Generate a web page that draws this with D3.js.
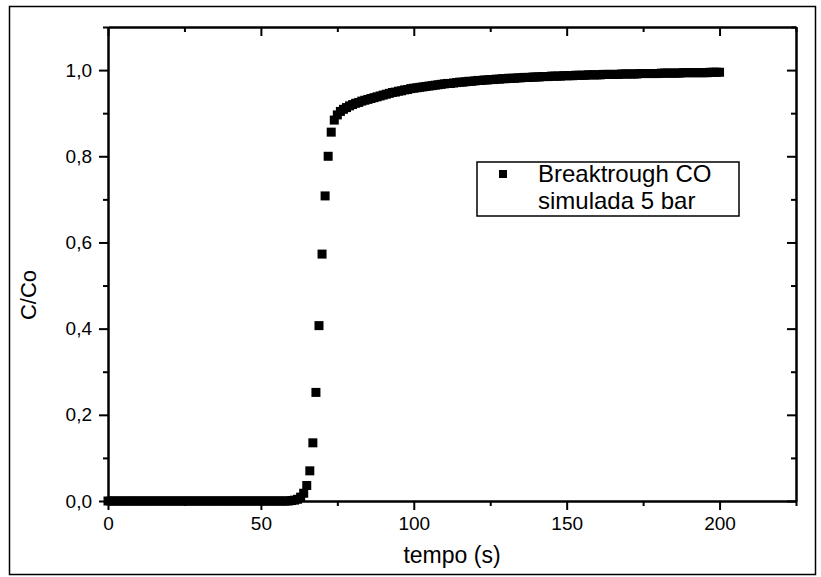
<!DOCTYPE html>
<html>
<head>
<meta charset="utf-8">
<script src="https://cdn.jsdelivr.net/npm/d3@7"></script>
<style>
  body { margin: 0; background: #fff; }
  svg { display: block; font-family: "Liberation Sans", Arial, sans-serif; }
</style>
</head>
<body>
<svg id="chart" width="821" height="577"></svg>
<script>
// simulated CO breakthrough, one point per second
const tStart = 0;
const tStep = 1;
const cOverCo = [
  // 0 - 59 s
  0,0,0,0,0,0,0,0,0,0, 0,0,0,0,0,0,0,0,0,0,
  0,0,0,0,0,0,0,0,0,0, 0,0,0,0,0,0,0,0,0,0,
  0,0,0,0,0,0,0,0,0,0, 0,0,0,0,0,0,0,0,0,0,
  // 60 - 74 s
  0.001,0.002,0.004,0.009,0.018,0.036,0.070,0.135,0.252,0.407,
  0.573,0.708,0.800,0.856,0.884,
  // 75 - 100 s
  0.896,0.904,0.909,0.913,0.917,0.920,0.923,0.925,0.928,0.930,
  0.932,0.934,0.936,0.938,0.940,0.942,0.944,0.946,0.948,0.949,
  0.951,0.952,0.954,0.955,0.957,0.958,
  // 101 - 132 s
  0.959,0.960,0.961,0.962,0.963,0.964,0.965,0.966,0.967,0.968,
  0.969,0.969,0.970,0.971,0.972,0.972,0.973,0.974,0.974,0.975,
  0.976,0.976,0.977,0.977,0.978,0.978,0.979,0.979,0.980,0.980,
  0.981,0.981,
  // 133 - 165 s
  0.981,0.982,0.982,0.983,0.983,0.983,0.984,0.984,0.984,0.985,
  0.985,0.985,0.986,0.986,0.986,0.986,0.987,0.987,0.987,0.987,
  0.988,0.988,0.988,0.988,0.989,0.989,0.989,0.989,0.989,0.990,
  0.990,0.990,0.990,
  // 166 - 200 s
  0.990,0.990,0.991,0.991,0.991,0.991,0.991,0.991,0.992,0.992,
  0.992,0.992,0.992,0.992,0.992,0.993,0.993,0.993,0.993,0.993,
  0.993,0.993,0.994,0.994,0.994,0.994,0.994,0.994,0.994,0.994,
  0.994,0.995,0.995,0.995,0.995
];

const xDomain = [0, 225];
const yDomain = [0, 1.1];
const xMajor = [0, 50, 100, 150, 200];
const xMinor = [25, 75, 125, 175, 225];
const yMajor = [0, 0.2, 0.4, 0.6, 0.8, 1.0];
const yMinor = [0.1, 0.3, 0.5, 0.7, 0.9, 1.1];
const legendLines = ["Breaktrough CO", "simulada 5 bar"];
const xTitle = "tempo (s)";
const yTitle = "C/Co";

const data = cOverCo.map((v, i) => ({t: tStart + i * tStep, v: v}));

const svg = d3.select("#chart");
const plot = {left: 108, right: 796, top: 27, bottom: 501};

const x = d3.scaleLinear().domain(xDomain).range([plot.left, plot.right]);
const y = d3.scaleLinear().domain(yDomain).range([plot.bottom, plot.top]);

const ptBR = d3.formatLocale({decimal: ",", thousands: ".", grouping: [3], currency: ["", ""]});
const fmt = ptBR.format(".1f");

// outer frame
svg.append("rect")
    .attr("x", 9.5).attr("y", 6.5)
    .attr("width", 806).attr("height", 568)
    .attr("fill", "none")
    .attr("stroke", "#000")
    .attr("stroke-width", 1.5);

let styleAxis = g => {
    g.selectAll("path, line").attr("stroke", "#000").attr("stroke-width", 2);
    g.selectAll("text").attr("fill", "#000").attr("font-family", "Liberation Sans, Arial, sans-serif");
};

// bottom
svg.append("g").attr("transform", `translate(0,${plot.bottom})`)
    .call(d3.axisBottom(x).tickValues(xMajor).tickSize(9).tickPadding(7).tickSizeOuter(0))
    .call(styleAxis)
    .call(g => g.selectAll("text").attr("font-size", 19));
svg.append("g").attr("transform", `translate(0,${plot.bottom})`)
    .call(d3.axisBottom(x).tickValues(xMinor).tickSize(5).tickFormat("").tickSizeOuter(0))
    .call(styleAxis);

// top (ticks point inward)
svg.append("g").attr("transform", `translate(0,${plot.top})`)
    .call(d3.axisBottom(x).tickValues(xMajor).tickSize(9).tickFormat("").tickSizeOuter(0))
    .call(styleAxis);
svg.append("g").attr("transform", `translate(0,${plot.top})`)
    .call(d3.axisBottom(x).tickValues(xMinor).tickSize(5).tickFormat("").tickSizeOuter(0))
    .call(styleAxis);

// left
svg.append("g").attr("transform", `translate(${plot.left},0)`)
    .call(d3.axisLeft(y).tickValues(yMajor).tickSize(9).tickPadding(7).tickFormat(fmt).tickSizeOuter(0))
    .call(styleAxis)
    .call(g => g.selectAll("text").attr("font-size", 19));
svg.append("g").attr("transform", `translate(${plot.left},0)`)
    .call(d3.axisLeft(y).tickValues(yMinor).tickSize(5).tickFormat("").tickSizeOuter(0))
    .call(styleAxis);

// right (ticks point inward)
svg.append("g").attr("transform", `translate(${plot.right},0)`)
    .call(d3.axisLeft(y).tickValues(yMajor).tickSize(9).tickFormat("").tickSizeOuter(0))
    .call(styleAxis);
svg.append("g").attr("transform", `translate(${plot.right},0)`)
    .call(d3.axisLeft(y).tickValues(yMinor).tickSize(5).tickFormat("").tickSizeOuter(0))
    .call(styleAxis);

// axis titles
svg.append("text")
    .attr("x", (plot.left + plot.right) / 2)
    .attr("y", 563)
    .attr("text-anchor", "middle")
    .attr("font-size", 23)
    .text(xTitle);

svg.append("text")
    .attr("transform", "translate(36,295) rotate(-90)")
    .attr("text-anchor", "middle")
    .attr("font-size", 22)
    .text(yTitle);

// markers
const size = 9;
svg.append("g").selectAll("rect").data(data)
    .enter().append("rect")
    .attr("x", d => x(d.t) - size / 2)
    .attr("y", d => y(d.v) - size / 2)
    .attr("width", size)
    .attr("height", size)
    .attr("fill", "#000");

// legend
const legend = svg.append("g").attr("transform", "translate(477,162)");
legend.append("rect")
    .attr("width", 262).attr("height", 54)
    .attr("fill", "#fff")
    .attr("stroke", "#000")
    .attr("stroke-width", 1.5);
legend.append("rect")
    .attr("x", 22).attr("y", 8)
    .attr("width", 8).attr("height", 8)
    .attr("fill", "#000");
legend.selectAll("text.lbl").data(legendLines)
    .enter().append("text")
    .attr("class", "lbl")
    .attr("x", 61)
    .attr("y", (d, i) => 20 + i * 27)
    .attr("font-size", 24)
    .text(d => d);
</script>
</body>
</html>
